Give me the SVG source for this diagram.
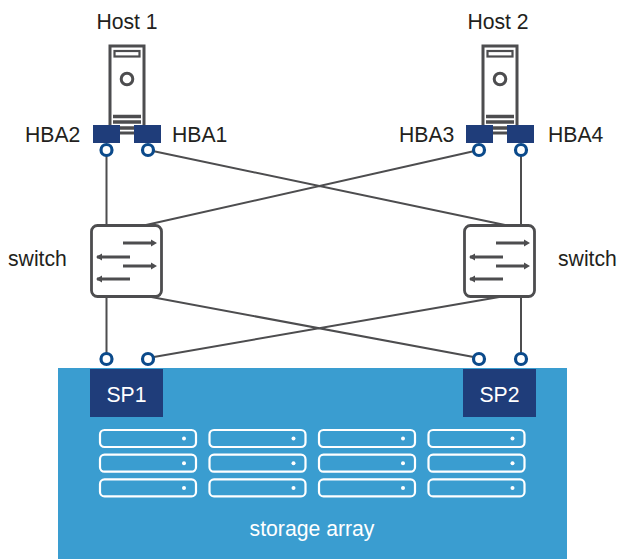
<svg xmlns="http://www.w3.org/2000/svg" xmlns:xlink="http://www.w3.org/1999/xlink" width="618" height="559" viewBox="0 0 618 559">
<style>
text{font-family:"Liberation Sans",Arial,sans-serif;font-size:21.200px;fill:#231f20}
.w{fill:#fff}
.c{fill:none;stroke:#4d4d4f;stroke-width:2}
.p{fill:#fff;stroke:#0b4a8b;stroke-width:3.200}
.h{fill:#1f3d7a}
.r{fill:none;stroke:#fff;stroke-width:2.200}
.a{stroke:#4d4d4f;stroke-width:2.800;fill:none}
.m{fill:#4d4d4f}
</style>
<defs>
<g id="server">
<rect x="110" y="46" width="34" height="87" fill="#fff" stroke="#4d4d4f" stroke-width="3"/>
<rect x="114.500" y="51" width="25" height="5.500" fill="none" stroke="#4d4d4f" stroke-width="2.200"/>
<circle cx="127" cy="79" r="5.800" fill="none" stroke="#4d4d4f" stroke-width="3"/>
<path d="M113 116.500H141M113 122H141M113 128H141" fill="none" stroke="#4d4d4f" stroke-width="3.400"/>
</g>
<g id="sw">
<rect x="91.500" y="225.500" width="70" height="71" rx="6" fill="#fff" stroke="#4d4d4f" stroke-width="2.800"/>
<path class="a" d="M123 243H152M97 257H130M123 266H152M97 279H130"/>
<path class="m" d="M157 243L151 239.500V246.500ZM96 257L102 253.500V260.500ZM157 266L151 262.500V269.500ZM96 279L102 275.500V282.500Z"/>
</g>
<g id="rack">
<rect x="100" y="430" width="96" height="17" rx="4.500" class="r"/>
<circle cx="184" cy="438.500" r="2" fill="#fff"/>
</g>
<g id="rackrow"><use xlink:href="#rack"/><use xlink:href="#rack" y="24.700"/><use xlink:href="#rack" y="49.400"/></g>
</defs>

<g id="connectors">
<path class="c" d="M106.500 150V228M148 150L505 225M479 150L146 225M521 150V228M106.500 296V358M148 358L505 296M479 358L146 296M521 296V358"/>
</g>

<g id="array">
<rect x="58" y="368" width="509" height="191" fill="#3a9dd0"/>
<use xlink:href="#rackrow"/><use xlink:href="#rackrow" x="109.500"/><use xlink:href="#rackrow" x="219"/><use xlink:href="#rackrow" x="328.500"/>
<text class="w" x="312" y="535.500" text-anchor="middle">storage array</text>
</g>
<g id="sp1">
<rect class="h" x="90" y="369" width="73" height="48"/>
<text class="w" x="126.500" y="402" text-anchor="middle">SP1</text>
<circle class="p" cx="106.500" cy="359" r="5.500"/><circle class="p" cx="148" cy="359" r="5.500"/>
</g>
<g id="sp2">
<rect class="h" x="463" y="369" width="73" height="48"/>
<text class="w" x="499.500" y="402" text-anchor="middle">SP2</text>
<circle class="p" cx="479" cy="359" r="5.500"/><circle class="p" cx="521" cy="359" r="5.500"/>
</g>
<g id="switch1"><use xlink:href="#sw"/><text x="8" y="266">switch</text></g>
<g id="switch2"><use xlink:href="#sw" x="373"/><text x="558" y="266">switch</text></g>
<g id="host1">
<text x="127" y="29" text-anchor="middle">Host 1</text>
<use xlink:href="#server"/>
<rect class="h" x="93" y="125" width="27" height="18"/><rect class="h" x="134" y="125" width="27" height="18"/>
<circle class="p" cx="106.500" cy="150" r="5.500"/><circle class="p" cx="148" cy="150" r="5.500"/>
<text x="25" y="142">HBA2</text><text x="172" y="142">HBA1</text>
</g>
<g id="host2">
<text x="498" y="29" text-anchor="middle">Host 2</text>
<use xlink:href="#server" x="373"/>
<rect class="h" x="466" y="125" width="27" height="18"/><rect class="h" x="507" y="125" width="27" height="18"/>
<circle class="p" cx="479" cy="150" r="5.500"/><circle class="p" cx="521" cy="150" r="5.500"/>
<text x="399" y="142">HBA3</text><text x="548" y="142">HBA4</text>
</g>
</svg>
